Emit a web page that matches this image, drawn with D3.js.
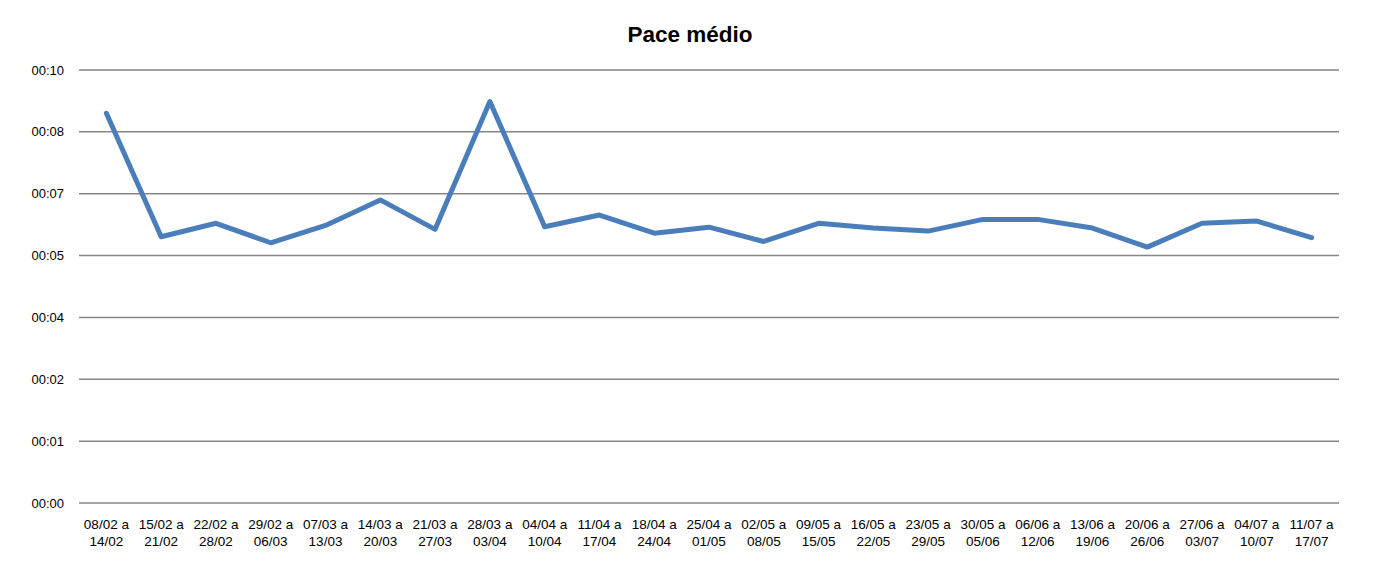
<!DOCTYPE html>
<html>
<head>
<meta charset="utf-8">
<script src="https://cdn.jsdelivr.net/npm/d3@7"></script>
<style>
  body { margin: 0; background: #fff; }
  svg { font-family: "Liberation Sans", Arial, sans-serif; }
</style>
</head>
<body>
<svg id="chart" width="1377" height="585"></svg>
<script>
// weeks (two-line labels)
const weekStart = ["08/02","15/02","22/02","29/02","07/03","14/03","21/03","28/03","04/04","11/04","18/04","25/04",
  "02/05","09/05","16/05","23/05","30/05","06/06","13/06","20/06","27/06","04/07","11/07"];
const weekEnd = ["14/02","21/02","28/02","06/03","13/03","20/03","27/03","03/04","10/04","17/04","24/04","01/05",
  "08/05","15/05","22/05","29/05","05/06","12/06","19/06","26/06","03/07","10/07","17/07"];

// average pace, minutes per km
const pace = [9.00, 6.15, 6.46, 6.01, 6.41, 7.00, 6.32, 9.27, 6.38, 6.65, 6.23, 6.37,
  6.04, 6.46, 6.35, 6.28, 6.55, 6.55, 6.35, 5.91, 6.46, 6.51, 6.13];

// excel-style axis: 0..10 min in 7 steps
const yMax = 10;
const yTicks = d3.range(0, 8).map(i => i * yMax / 7);

const svg = d3.select("#chart");
const margin = {left: 79, right: 38, top: 70, bottom: 82};
const width = 1377, height = 585;

const x = d3.scaleBand()
    .domain(weekStart.map((d, i) => i))
    .range([margin.left, width - margin.right]);

const y = d3.scaleLinear()
    .domain([0, yMax])
    .range([height - margin.bottom, margin.top]);

const fmt = v => {
  const m = Math.floor(v + 1e-9);
  return "00:" + String(m).padStart(2, "0");
};

// gridlines
svg.append("g")
  .selectAll("line")
  .data(yTicks)
  .join("line")
    .attr("x1", margin.left)
    .attr("x2", width - margin.right)
    .attr("y1", d => y(d))
    .attr("y2", d => y(d))
    .attr("stroke", "#868686")
    .attr("stroke-width", 1.5);

// y labels
svg.append("g")
  .selectAll("text")
  .data(yTicks)
  .join("text")
    .attr("x", 64)
    .attr("y", d => y(d))
    .attr("dy", "0.35em")
    .attr("text-anchor", "end")
    .attr("font-size", 13)
    .attr("fill", "#000")
    .text(fmt);

// x labels
const xl = svg.append("g")
  .selectAll("text")
  .data(weekStart)
  .join("text")
    .attr("text-anchor", "middle")
    .attr("font-size", 13.5)
    .attr("fill", "#000");
xl.append("tspan")
    .attr("x", (d, i) => x(i) + x.bandwidth() / 2)
    .attr("y", 529)
    .text(d => d + " a");
xl.append("tspan")
    .attr("x", (d, i) => x(i) + x.bandwidth() / 2)
    .attr("y", 546)
    .text((d, i) => weekEnd[i]);

// line
const line = d3.line()
    .x((d, i) => x(i) + x.bandwidth() / 2)
    .y(d => y(d));

svg.append("path")
    .datum(pace)
    .attr("fill", "none")
    .attr("stroke", "#4a7ebb")
    .attr("stroke-width", 5)
    .attr("stroke-linejoin", "round")
    .attr("stroke-linecap", "round")
    .attr("d", line);

// title
svg.append("text")
    .attr("x", 690)
    .attr("y", 42)
    .attr("text-anchor", "middle")
    .attr("font-size", 22.5)
    .attr("font-weight", "bold")
    .attr("fill", "#000")
    .text("Pace médio");
</script>
</body>
</html>
